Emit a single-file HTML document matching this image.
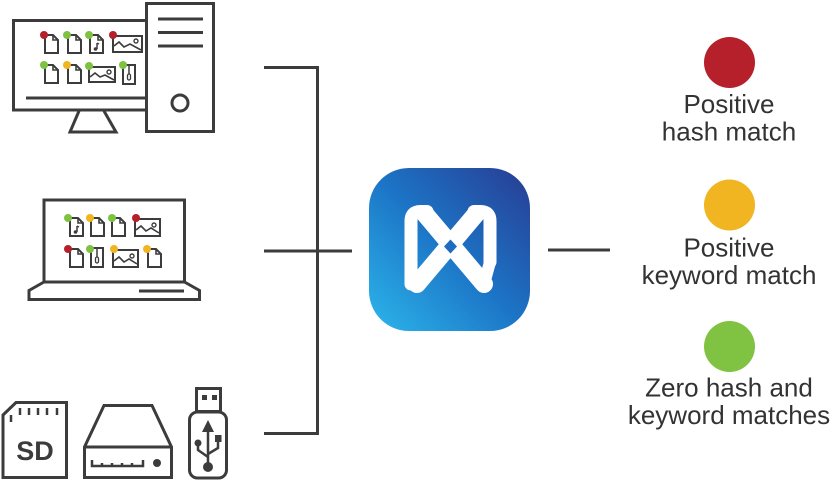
<!DOCTYPE html>
<html><head><meta charset="utf-8"><style>
html,body{margin:0;padding:0;background:#fff;}
body{width:833px;height:504px;overflow:hidden;}
svg{display:block;}
text{font-family:"Liberation Sans",sans-serif;}
</style></head><body>
<svg width="833" height="504" viewBox="0 0 833 504" xmlns="http://www.w3.org/2000/svg">
<defs>
<linearGradient id="lg" x1="0" y1="1" x2="1" y2="0">
<stop offset="0" stop-color="#2cb6eb"/>
<stop offset="0.5" stop-color="#1c74c6"/>
<stop offset="1" stop-color="#283c92"/>
</linearGradient>
<clipPath id="lc"><rect x="369" y="168" width="161" height="163" rx="40"/></clipPath>
<g id="doc"><path d="M0 0H8L13 5V18H0Z" fill="#fff" stroke="#3c3c3c" stroke-width="2"/><path d="M8 0V5H13" fill="none" stroke="#3c3c3c" stroke-width="1.6"/></g>
<g id="mus"><use href="#doc"/><path d="M7 8V14" stroke="#3c3c3c" stroke-width="1.5"/><circle cx="5.5" cy="14" r="1.8" fill="#3c3c3c"/><path d="M7 8L9 9" stroke="#3c3c3c" stroke-width="1.5"/></g>
<g id="zip"><path d="M0 0H12V19H0Z" fill="#fff" stroke="#3c3c3c" stroke-width="2"/><path d="M6 0V9" stroke="#3c3c3c" stroke-width="1.5"/><rect x="4.5" y="9" width="3" height="6" rx="1.5" fill="none" stroke="#3c3c3c" stroke-width="1.3"/></g>
</defs>

<!-- connectors -->
<g stroke="#3c3c3c" stroke-width="3" fill="none">
<path d="M264 67.5H317.5V433.5H264"/>
<path d="M264 251H352"/>
<path d="M548 250H610"/>
</g>

<!-- desktop -->
<g stroke="#3c3c3c" stroke-width="3" fill="none">
<path d="M146 20.5H13.5V110H146"/>
<path d="M26 98H146"/>
<path d="M79 111L70 132H116L104 111"/>
<rect x="146.5" y="3.5" width="67" height="128" fill="#fff"/>
<path d="M158 19H203M158 32.5H203M158 46H203"/>
<circle cx="180" cy="103" r="8"/>
</g>
<!-- desktop files row1 -->
<use href="#doc" x="45" y="35"/>
<use href="#doc" x="68" y="35"/>
<use href="#mus" x="90" y="35"/>
<g stroke="#3c3c3c" stroke-width="2" fill="#fff"><rect x="113" y="36" width="29" height="16"/></g>
<path d="M114 46L119 42L124 47L130 44L141 50" fill="none" stroke="#3c3c3c" stroke-width="1.6"/>
<circle cx="136" cy="41" r="2" fill="none" stroke="#3c3c3c" stroke-width="1.4"/>
<!-- row2 -->
<use href="#doc" x="45" y="65"/>
<use href="#doc" x="68" y="65"/>
<rect x="89" y="67" width="26" height="15" fill="#fff" stroke="#3c3c3c" stroke-width="2"/>
<path d="M90 77L95 73L100 77L105 75L114 80" fill="none" stroke="#3c3c3c" stroke-width="1.6"/>
<circle cx="109" cy="72" r="2" fill="none" stroke="#3c3c3c" stroke-width="1.4"/>
<use href="#zip" x="123" y="65"/>
<g>
<circle cx="44" cy="35" r="4" fill="#b5202a"/>
<circle cx="67" cy="35" r="4" fill="#7fc241"/>
<circle cx="89" cy="35" r="4" fill="#7fc241"/>
<circle cx="113" cy="35" r="4" fill="#b5202a"/>
<circle cx="44" cy="65" r="4" fill="#7fc241"/>
<circle cx="67" cy="65" r="4" fill="#f0b521"/>
<circle cx="89" cy="66" r="4" fill="#7fc241"/>
<circle cx="123" cy="65" r="4" fill="#7fc241"/>
</g>

<!-- laptop -->
<g stroke="#3c3c3c" stroke-width="3" fill="none">
<rect x="44" y="200" width="140.5" height="82"/>
<path d="M44 282L29 290.5V299.5H199.5V290.5L184.5 282"/>
<path d="M139 291H184"/>
</g>
<use href="#mus" x="70" y="218"/>
<use href="#doc" x="91" y="218"/>
<use href="#doc" x="112" y="218"/>
<rect x="135" y="219" width="25" height="17" fill="#fff" stroke="#3c3c3c" stroke-width="2"/>
<path d="M136 230L141 226L146 231L151 228L159 233" fill="none" stroke="#3c3c3c" stroke-width="1.6"/>
<circle cx="154" cy="225" r="2" fill="none" stroke="#3c3c3c" stroke-width="1.4"/>
<use href="#doc" x="70" y="249"/>
<use href="#zip" x="91" y="248"/>
<rect x="113" y="250" width="25" height="17" fill="#fff" stroke="#3c3c3c" stroke-width="2"/>
<path d="M114 261L119 257L124 262L129 259L137 264" fill="none" stroke="#3c3c3c" stroke-width="1.6"/>
<circle cx="132" cy="256" r="2" fill="none" stroke="#3c3c3c" stroke-width="1.4"/>
<use href="#doc" x="148" y="249"/>
<g>
<circle cx="68" cy="218" r="4" fill="#7fc241"/>
<circle cx="90" cy="218" r="4" fill="#f0b521"/>
<circle cx="112" cy="218" r="4" fill="#7fc241"/>
<circle cx="136" cy="218" r="4" fill="#b5202a"/>
<circle cx="68" cy="249" r="4" fill="#b5202a"/>
<circle cx="90" cy="249" r="4" fill="#7fc241"/>
<circle cx="114" cy="249" r="4" fill="#f0b521"/>
<circle cx="147" cy="249" r="4" fill="#f0b521"/>
</g>

<!-- SD card -->
<g stroke="#3c3c3c" fill="none">
<path d="M3 415L16 402.5H66.5V477.5H3Z" stroke-width="3"/>
<path d="M20 408V415M29 408V415M38 408V415M47 408V415M57 408V415M11 415V422" stroke-width="2.5"/>
</g>
<text x="35" y="460" font-size="27" font-weight="bold" fill="#3c3c3c" text-anchor="middle">SD</text>

<!-- HDD -->
<g stroke="#3c3c3c" fill="none" stroke-width="3">
<path d="M104 405.5H152L171.5 447V477.5H84.5V447Z"/>
<path d="M84.5 447H171.5"/>
<path d="M92 460V466H143V460M102 463V466M112 463V466M122 463V466M132 463V466" stroke-width="2.5"/>
</g>
<circle cx="157" cy="463" r="4" fill="#3c3c3c"/>

<!-- USB -->
<g stroke="#3c3c3c" fill="none" stroke-width="3">
<rect x="196.5" y="388.5" width="24" height="23"/>
<rect x="189.5" y="412" width="37" height="66" rx="8"/>
<path d="M208 428V466" stroke-width="2.5"/>
<path d="M198 444V450L208 457M218 440V448L208 454" stroke-width="2.5"/>
</g>
<path d="M208 420L202 432H214Z" fill="#3c3c3c"/>
<rect x="202" y="395" width="5" height="5" fill="#3c3c3c"/>
<rect x="212" y="395" width="5" height="5" fill="#3c3c3c"/>
<circle cx="198" cy="443" r="3.5" fill="#3c3c3c"/>
<rect x="215" y="435" width="6.5" height="7" fill="#3c3c3c"/>
<circle cx="208" cy="467" r="5" fill="#3c3c3c"/>

<!-- logo -->
<rect x="369" y="168" width="161" height="163" rx="40" fill="url(#lg)"/>
<g clip-path="url(#lc)" fill="none" stroke="#fff" stroke-linecap="round" stroke-linejoin="round">
<path d="M411 284V221Q411 211.5 420.5 211.5H427" stroke-width="13"/>
<path d="M490 262V221Q490 211.5 480.5 211.5H474" stroke-width="13"/>
<path d="M425 214L484 284" stroke-width="18"/>
<path d="M476 214L417 284" stroke-width="18"/>
<path d="M484 284L490 262" stroke-width="12"/>
</g>
<path d="M450.5 239.5L457 246.5L450.5 253.5L444 246.5Z" fill="#1d6cc0"/>

<!-- legend -->
<circle cx="729.5" cy="62.5" r="25.5" fill="#b5202a"/>
<circle cx="729.5" cy="205" r="25.5" fill="#f0b521"/>
<circle cx="729.5" cy="346.5" r="25.5" fill="#80c241"/>
<g font-size="26" fill="#333" text-anchor="middle">
<text x="729" y="113">Positive</text>
<text x="729" y="140.5">hash match</text>
<text x="729" y="256.5">Positive</text>
<text x="729" y="284">keyword match</text>
<text x="729" y="396.5">Zero hash and</text>
<text x="729" y="424">keyword matches</text>
</g>
</svg>
</body></html>
